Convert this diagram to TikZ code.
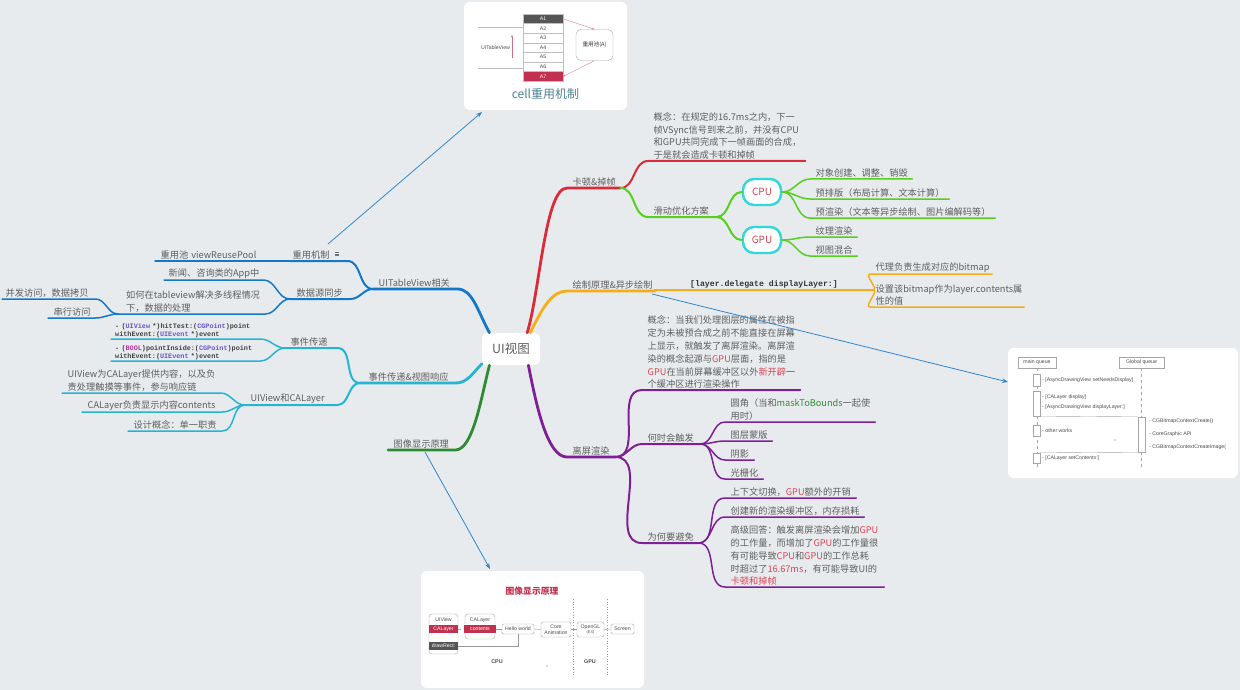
\documentclass[tikz,border=0pt]{standalone}
\usepackage{fontspec}
\setmainfont{Noto Sans CJK SC}
\setsansfont{Liberation Sans}
\setmonofont{Liberation Mono}
\usetikzlibrary{arrows.meta}
\hyphenpenalty=10000
\definecolor{bgc}{HTML}{E8EBEE}
\definecolor{txtc}{HTML}{5E5E5E}
\definecolor{bluec}{HTML}{1478C8}
\definecolor{cyanc}{HTML}{25B4D2}
\definecolor{greenc}{HTML}{2E8B34}
\definecolor{redc}{HTML}{D92B3A}
\definecolor{limec}{HTML}{56CF1E}
\definecolor{orangec}{HTML}{F5AE16}
\definecolor{purplec}{HTML}{7E1F96}
\definecolor{boxc}{HTML}{30D8DA}
\definecolor{linkc}{HTML}{2F86CC}
\definecolor{hotc}{HTML}{DB4452}
\definecolor{crimc}{HTML}{C2304F}
\definecolor{darkc}{HTML}{555555}
\definecolor{typec}{HTML}{6657C8}
\definecolor{boolc}{HTML}{B5309F}
\definecolor{captc}{HTML}{4F8292}
\tikzset{
  leaf/.style={anchor=south west,inner xsep=5.5pt,inner ysep=1.2pt,align=left,text=txtc,
    text width=#1pt-11pt,font=\fontsize{9.2}{12.8}\selectfont},
  code/.style={anchor=south west,inner xsep=4pt,inner ysep=.8pt,align=left,text=black!75,
    text width=#1pt-8pt,font=\ttfamily\bfseries\fontsize{6.8}{8.2}\selectfont},
  main/.style={line width=2.8pt,line cap=round,line join=round},
  sub/.style={line width=2pt,line cap=round,line join=round},
  twig/.style={line width=1.5pt,line cap=round,line join=round},
  card/.style={fill=white,rounded corners=6pt,draw=none},
  tiny/.style={text=black!70,inner sep=0pt,font=\sffamily\fontsize{5.2}{6.4}\selectfont},
  small/.style={draw=black!35,fill=white,rounded corners=1.5pt,inner sep=0pt,align=center,text=black!70,
    font=\sffamily\fontsize{5.2}{6.4}\selectfont},
  cellrow/.style={small,rounded corners=0pt,draw=black!25,minimum width=40pt,minimum height=9.6pt},
  lane/.style={draw=black!35,fill=white,inner sep=0pt},
  link/.style={linkc,line width=.8pt,-{Stealth[length=6pt,width=4.5pt]}},
  cpugpu/.style={draw=boxc,fill=white,line width=2.4pt,rounded corners=11pt,minimum width=38pt,minimum height=26pt,
    inner sep=0pt,text=hotc,font=\fontsize{10}{12}\selectfont}
}
\begin{document}
\begin{tikzpicture}[x=1pt,y=-1pt]
\useasboundingbox (0,0) rectangle (1240,690);
\fill[bgc] (0,0) rectangle (1240,690);

\node[fill=white,rounded corners=5pt,minimum width=58pt,minimum height=32pt,inner sep=0pt,text=txtc,
  font=\fontsize{12.5}{15}\selectfont] (root) at (511,349) {UI视图};

\node[leaf=84] (table) at (373,289) {UITableView相关};
\node[leaf=57] (reuse) at (290,261) {\kern-3pt 重用机制};
\node[leaf=135] (pool) at (155,261) {重用池 viewReusePool};
\node[leaf=60] (sync) at (290,299) {\kern1pt 数据源同步};
\node[leaf=99] (news) at (164,280) {\kern-1pt 新闻、咨询类的App中};
\node[leaf=147] (thread) at (118,314) {\hspace*{2.5pt}如何在tableview解决多线程情况\\\hspace*{2.5pt}下，数据的处理};
\node[leaf=93] (copy) at (2,299) {\kern-2pt 并发访问，数据拷贝};
\node[leaf=47] (serial) at (48,318) {串行访问};

\node[leaf=95] (event) at (360,383) {\kern3pt 事件传递\&视图响应};
\node[leaf=52] (pass) at (285,348) {事件传递};
\node[leaf=92] (layer) at (245,405) {UIView和CALayer};
\node[code=149] (hit) at (111,339) {- (\textcolor{typec}{UIView} *)hitTest:(\textcolor{typec}{CGPoint})point\\withEvent:(\textcolor{typec}{UIEvent} *)event};
\node[code=149] (inside) at (111,361) {- (\textcolor{boolc}{BOOL})pointInside:(\textcolor{typec}{CGPoint})point\\withEvent:(\textcolor{typec}{UIEvent} *)event};
\node[leaf=158] (view) at (62,393) {UIView为CALayer提供内容，以及负\\责处理触摸等事件，参与响应链};
\node[leaf=140] (show) at (82,412) {CALayer负责显示内容contents};
\node[leaf=94] (duty) at (128,431) {设计概念：单一职责};

\node[leaf=67] (image) at (388,450) {图像显示原理};

\node[leaf=53] (lag) at (567,188) {卡顿\&掉帧};
\node[leaf=157] (lagidea) at (648,161) {概念：在规定的16.7ms之内，下一\\帧VSync信号到来之前，并没有CPU\\和GPU共同完成下一帧画面的合成，\\于是就会造成卡顿和掉帧};
\node[leaf=68] (smooth) at (648,217) {滑动优化方案};
\node[cpugpu] (cpu) at (762,192) {CPU};
\node[cpugpu] (gpu) at (762,240) {GPU};
\node[leaf=102] (create) at (810,179) {对象创建、调整、销毁};
\node[leaf=139] (prelay) at (810,199) {预排版（布局计算、文本计算）};
\node[leaf=185] (prerend) at (810,218) {预渲染（文本等异步绘制、图片编解码等）};
\node[leaf=47] (texture) at (810,237) {纹理渲染};
\node[leaf=47] (blend) at (810,256) {视图混合};

\node[leaf=88] (draw) at (567,291) {绘制原理\&异步绘制};
\node[anchor=south west,inner xsep=35pt,inner ysep=1.5pt,text=black!80,
  font=\ttfamily\bfseries\fontsize{8.2}{10}\selectfont] (delegate) at (655,290) {[layer.delegate displayLayer:]};
\node[leaf=122] (bitmap) at (870,274) {代理负责生成对应的bitmap};
\node[leaf=154] (contents) at (870,307) {设置该bitmap作为layer.contents属\\性的值};

\node[leaf=48] (off) at (567,457) {离屏渲染};
\node[leaf=158] (offidea) at (642,390) {概念：当我们处理图层的属性在被指\\定为未被预合成之前不能直接在屏幕\\上显示，就触发了离屏渲染。离屏渲\\染的概念起源与\textcolor{hotc}{GPU}层面，指的是\\\textcolor{hotc}{GPU}在当前屏幕缓冲区以外\textcolor{hotc}{新开辟}一\\个缓冲区进行渲染操作};
\node[leaf=58] (when) at (642,444) {何时会触发};
\node[leaf=56] (avoid) at (642,543) {为何要避免};
\node[leaf=150] (round) at (725,422) {圆角（当和\textcolor{greenc}{maskToBounds}一起使\\用时）};
\node[leaf=47] (mask) at (725,441) {图层蒙版};
\node[leaf=29] (shadow) at (725,460) {阴影};
\node[leaf=38] (raster) at (725,479) {光栅化};
\node[leaf=131] (switch) at (725,498) {上下文切换，\textcolor{hotc}{GPU}额外的开销};
\node[leaf=139] (newbuf) at (725,517) {创建新的渲染缓冲区，内存损耗};
\node[leaf=159] (answer) at (725,587) {高级回答：触发离屏渲染会增加\textcolor{hotc}{GPU}\\的工作量，而增加了\textcolor{hotc}{GPU}的工作量很\\有可能导致\textcolor{hotc}{CPU}和\textcolor{hotc}{GPU}的工作总耗\\时超过了\textcolor{hotc}{16.67ms}，有可能导致UI的\\\textcolor{hotc}{卡顿和掉帧}};

\draw[main,bluec] (root.143) .. controls +(-12,-22) and +(15,0) .. (table.south east) -- (table.south west);
\draw[sub,bluec] (table.south west) to[out=180,in=0] (reuse.south east) -- (reuse.south west);
\draw[sub,bluec] (table.south west) to[out=180,in=0] (sync.south east) -- (sync.south west);
\draw[twig,bluec] (reuse.south west) -- (pool.south west);
\draw[twig,bluec] (sync.south west) to[out=180,in=0] (news.south east) -- (news.south west);
\draw[twig,bluec] (sync.south west) to[out=180,in=0] (thread.south east) -- (thread.south west);
\draw[twig,bluec] (thread.south west) to[out=180,in=0] (copy.south east) -- (copy.south west);
\draw[twig,bluec] (thread.south west) to[out=180,in=0] (serial.south east) -- (serial.south west);

\draw[main,cyanc] (root.207) .. controls +(-10,10) and +(12,0) .. (event.south east) -- (event.south west);
\draw[sub,cyanc] (event.south west) to[out=180,in=0] (pass.south east) -- (pass.south west);
\draw[sub,cyanc] (event.south west) to[out=180,in=0] (layer.south east) -- (layer.south west);
\draw[twig,cyanc] (pass.south west) to[out=180,in=0] (hit.south east) -- (hit.south west);
\draw[twig,cyanc] (pass.south west) to[out=180,in=0] (inside.south east) -- (inside.south west);
\draw[twig,cyanc] (layer.south west) to[out=180,in=0] (view.south east) -- (view.south west);
\draw[twig,cyanc] (layer.south west) to[out=180,in=0] (show.south east) -- (show.south west);
\draw[twig,cyanc] (layer.south west) to[out=180,in=0] (duty.south east) -- (duty.south west);

\draw[main,greenc] (root.217) .. controls +(-8,30) and +(18,0) .. (image.south east) -- (image.south west);

\draw[main,redc] (root.45) .. controls +(13,-43) and +(-22,0) .. (lag.south west) -- (lag.south east);
\draw[sub,redc] (lag.south east) to[out=0,in=180] (lagidea.south west) -- (lagidea.south east);
\draw[sub,limec] (lag.south east) to[out=0,in=180] (smooth.south west) -- (smooth.south east);
\draw[sub,limec] (smooth.south east) to[out=0,in=180] (cpu.west);
\draw[sub,limec] (smooth.south east) to[out=0,in=180] (gpu.west);
\draw[twig,limec] (cpu.east) to[out=0,in=180] (create.south west) -- (create.south east);
\draw[twig,limec] (cpu.east) to[out=0,in=180] (prelay.south west) -- (prelay.south east);
\draw[twig,limec] (cpu.east) to[out=0,in=180] (prerend.south west) -- (prerend.south east);
\draw[twig,limec] (gpu.east) to[out=0,in=180] (texture.south west) -- (texture.south east);
\draw[twig,limec] (gpu.east) to[out=0,in=180] (blend.south west) -- (blend.south east);

\draw[main,orangec] (root.40) .. controls +(12,-25) and +(-15,0) .. (draw.south west) -- (draw.south east);
\draw[sub,orangec] (draw.south east) -- (delegate.south west) -- (delegate.south east);
\draw[twig,orangec] (delegate.south east) to[out=0,in=180] (bitmap.south west) -- (bitmap.south east);
\draw[twig,orangec] (delegate.south east) to[out=0,in=180] (contents.south west) -- (contents.south east);

\draw[main,purplec] (root.-43) .. controls +(8,40) and +(-20,0) .. (off.south west) -- (off.south east);
\draw[sub,purplec] (off.south east) to[out=0,in=180] (offidea.south west) -- (offidea.south east);
\draw[sub,purplec] (off.south east) to[out=0,in=180] (when.south west) -- (when.south east);
\draw[sub,purplec] (off.south east) to[out=0,in=180] (avoid.south west) -- (avoid.south east);
\draw[twig,purplec] (when.south east) to[out=0,in=180] (round.south west) -- (round.south east);
\draw[twig,purplec] (when.south east) to[out=0,in=180] (mask.south west) -- (mask.south east);
\draw[twig,purplec] (when.south east) to[out=0,in=180] (shadow.south west) -- (shadow.south east);
\draw[twig,purplec] (when.south east) to[out=0,in=180] (raster.south west) -- (raster.south east);
\draw[twig,purplec] (avoid.south east) to[out=0,in=180] (switch.south west) -- (switch.south east);
\draw[twig,purplec] (avoid.south east) to[out=0,in=180] (newbuf.south west) -- (newbuf.south east);
\draw[twig,purplec] (avoid.south east) to[out=0,in=180] (answer.south west) -- (answer.south east);

\draw[black!55,line width=.5pt] (335,252.5) -- (339,252.5) (335,254) -- (339,254) (335,255.5) -- (339,255.5);

\node[card,minimum width=163pt,minimum height=108pt] (cellcard) at (545.5,56) {};
\node[cellrow,fill=darkc,text=white] (a1) at (543,18.8) {A1};
\node[cellrow] (a2) at (543,28.4) {A2};
\node[cellrow] (a3) at (543,38) {A3};
\node[cellrow] (a4) at (543,47.6) {A4};
\node[cellrow] (a5) at (543,57.2) {A5};
\node[cellrow] (a6) at (543,66.8) {A6};
\node[cellrow,fill=crimc,text=white] (a7) at (543,76.4) {A7};
\node[small,rounded corners=5pt,minimum width=37pt,minimum height=31pt,text=black!80] (reusepool) at (594.5,45) {\fontspec{Noto Sans CJK SC}\fontsize{5.6}{7}\selectfont 重用池(A)};
\node[tiny] (tablename) at (495.5,47.5) {UITableView};
\coordinate (rowtop) at (478,27);
\coordinate (rowtopend) at (523,27);
\coordinate (rowbot) at (478,68);
\coordinate (rowbotend) at (523,68);
\coordinate (uptail) at (512,58);
\coordinate (uptip) at (512,35);
\draw[black!25,line width=.5pt] (rowtop) -- (rowtopend);
\draw[black!25,line width=.5pt] (rowbot) -- (rowbotend);
\draw[crimc!70,line width=.3pt,-{Stealth[length=2.5pt,width=2pt]}] (uptail) -- (uptip);
\draw[crimc!60,line width=.4pt,-{Stealth[length=2.5pt,width=2pt]}] (a1.east) -- (reusepool.north);
\draw[crimc!60,line width=.4pt,-{Stealth[length=2.5pt,width=2pt]}] (reusepool.south) -- (a7.east);
\node[text=captc,font=\fontsize{12}{15}\selectfont,inner sep=0pt] (celltitle) at (545.5,94) {cell重用机制};

\node[card,minimum width=230pt,minimum height=130pt] (seqcard) at (1123,413) {};
\node[small,rounded corners=0pt,minimum width=38pt,minimum height=11pt] (mainq) at (1037,362.5) {main queue};
\node[small,rounded corners=0pt,minimum width=45pt,minimum height=11pt] (globalq) at (1141.5,362.5) {Global queue};
\coordinate (mainend) at (1037,469);
\coordinate (globalend) at (1141.5,469);
\draw[black!35,dashed,line width=.4pt] (mainq) -- (mainend);
\draw[black!35,dashed,line width=.4pt] (globalq) -- (globalend);
\node[lane,minimum width=7pt,minimum height=12pt] (act1) at (1036.5,380) {};
\node[lane,minimum width=7pt,minimum height=25pt] (act2) at (1036.5,403.5) {};
\node[lane,minimum width=7pt,minimum height=11pt] (act3) at (1036.5,430.5) {};
\node[lane,minimum width=7pt,minimum height=10pt] (act4) at (1036.5,458) {};
\node[lane,minimum width=7pt,minimum height=35pt] (act5) at (1141.5,434.5) {};
\draw[black!35,line width=.4pt] (act2.south east) -- (act5.north west);
\draw[black!35,line width=.4pt] (act5.south west) -- (act4.north east);
\node[tiny,anchor=west] (seq1) at (1042,380.5) {- [AsyncDrawingView setNeedsDisplay]};
\node[tiny,anchor=west] (seq2) at (1042,397) {- [CALayer display]};
\node[tiny,anchor=west] (seq3) at (1042,407.5) {- [AsyncDrawingView displayLayer:]};
\node[tiny,anchor=west] (seq4) at (1042,431) {- other works};
\node[tiny,anchor=west] (seq5) at (1042,458.5) {- [CALayer setContents:]};
\node[tiny,anchor=west] (seq6) at (1149,421.5) {- CGBitmapContextCreate()};
\node[tiny,anchor=west] (seq7) at (1149,434) {- CoreGraphic API};
\node[tiny,anchor=west] (seq8) at (1149,447) {- CGBitmapContextCreateImage(};
\fill[black!60] (1115,440) circle (.6pt);

\node[card,minimum width=223pt,minimum height=117pt] (imgcard) at (532.5,629.5) {};
\node[text=crimc,font=\bfseries\fontsize{8.8}{11}\selectfont,inner sep=0pt] (imgtitle) at (532,591) {图像显示原理};
\node[small,rounded corners=3pt,minimum width=29pt,minimum height=40pt] (uiview) at (443.5,634) {};
\node[small,rounded corners=3pt,minimum width=30pt,minimum height=25pt] (calayer) at (480,626.5) {};
\node[tiny] (uiviewname) at (443.5,620) {UIView};
\node[tiny] (calayername) at (480,620) {CALayer};
\node[small,draw=none,rounded corners=0pt,fill=crimc,text=white,minimum width=29pt,minimum height=8pt] (uilayer) at (443.5,629) {CALayer};
\node[small,draw=none,rounded corners=0pt,fill=crimc,text=white,minimum width=32pt,minimum height=8pt] (contentsbar) at (480,629) {contents};
\node[small,draw=none,rounded corners=0pt,fill=darkc,text=white,minimum width=29pt,minimum height=8pt] (drawrect) at (443.5,646) {drawRect:};
\node[small,minimum width=32pt,minimum height=10pt] (hello) at (518,629) {Hello world};
\node[small,minimum width=30pt,minimum height=15pt] (core) at (556,629.5) {Core\\Animation};
\node[small,minimum width=27pt,minimum height=15pt] (opengl) at (590.5,629.5) {OpenGL\\[-1pt]{\fontsize{3.8}{4}\selectfont (ES)}};
\node[small,minimum width=23pt,minimum height=10pt] (screen) at (622.5,629) {Screen};
\node[tiny,font=\sffamily\bfseries\fontsize{5.4}{6.4}\selectfont] (cpuname) at (497,662) {CPU};
\node[tiny,font=\sffamily\bfseries\fontsize{5.4}{6.4}\selectfont] (gpuname) at (590,662) {GPU};
\coordinate (split1top) at (573,599);
\coordinate (split1bot) at (573,677);
\coordinate (split2top) at (607,599);
\coordinate (split2bot) at (607,677);
\draw[black!40,dotted,line width=.6pt] (split1top) -- (split1bot);
\draw[black!40,dotted,line width=.6pt] (split2top) -- (split2bot);
\draw[crimc!50,dashed,line width=.4pt] (uilayer.east) -- (contentsbar.west);
\draw[black!40,line width=.4pt] (contentsbar.east) -- (hello.west);
\draw[black!40,line width=.4pt] (hello.east) -- (core.west);
\draw[black!40,line width=.4pt] (core.east) -- (opengl.west);
\draw[black!40,line width=.4pt] (opengl.east) -- (screen.west);
\draw[black!40,line width=.4pt] (drawrect.east) -| (hello.south);
\fill[black!60] (547,666) circle (.6pt);

\coordinate (celllink) at (328,244);
\coordinate (celltip) at (482,112);
\coordinate (seqlink) at (652,294);
\coordinate (seqtip) at (1008,382);
\coordinate (imglink) at (425,452);
\coordinate (imgtip) at (490,569);
\draw[link] (celllink) -- (celltip);
\draw[link] (seqlink) -- (seqtip);
\draw[link] (imglink) -- (imgtip);
\end{tikzpicture}
\end{document}
